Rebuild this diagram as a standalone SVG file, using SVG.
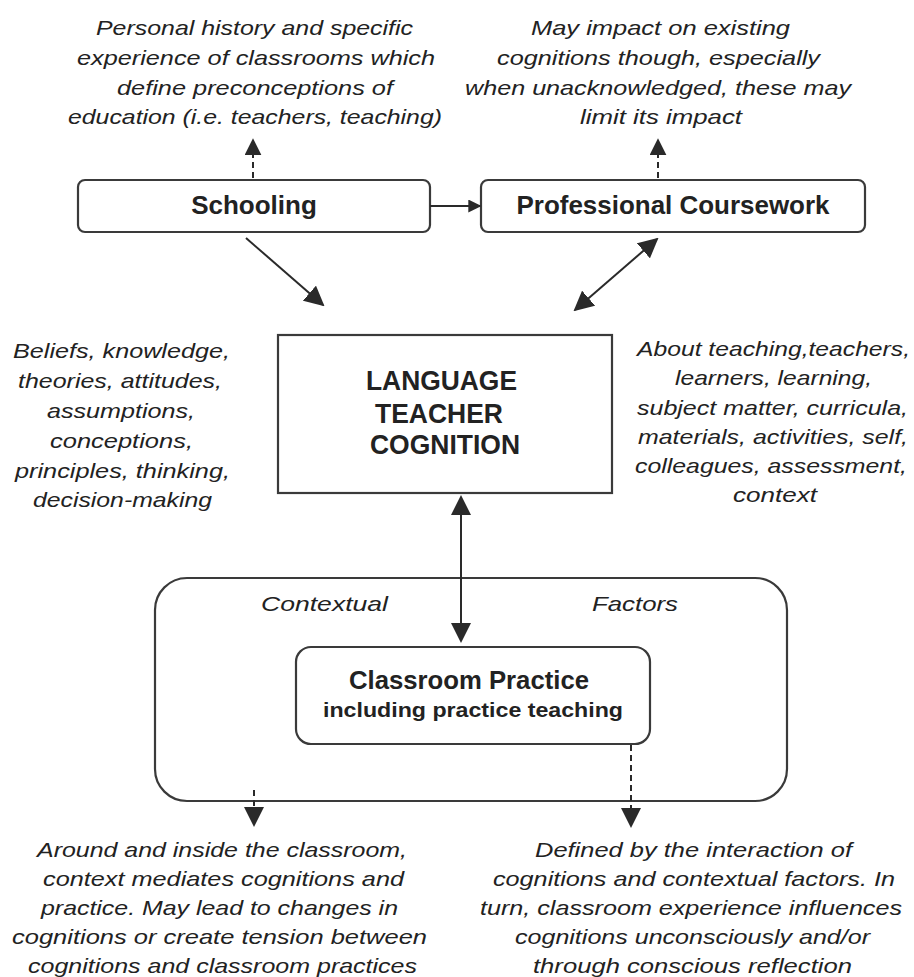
<svg xmlns="http://www.w3.org/2000/svg" width="914" height="977" viewBox="0 0 914 977">
<style>
  .note { font-family: "Liberation Sans", Arial, sans-serif; font-style: italic; font-size: 21px; fill: #222; }
  .bold { font-family: "Liberation Sans", Arial, sans-serif; font-weight: bold; fill: #222; }
  .box { fill: #fff; stroke: #3a3a3a; stroke-width: 2.2; }
  .conn { stroke: #2a2a2a; stroke-width: 2; fill: none; }
  .dash { stroke-dasharray: 6 4; }
</style>
<defs>
  <marker id="ah" viewBox="0 0 10 10" refX="9" refY="5" markerWidth="20" markerHeight="20" markerUnits="userSpaceOnUse" orient="auto-start-reverse">
    <path d="M0,0 L10,5 L0,10 z" fill="#2a2a2a"/>
  </marker>
  <marker id="ahm" viewBox="0 0 10 10" refX="9" refY="5" markerWidth="17" markerHeight="17" markerUnits="userSpaceOnUse" orient="auto-start-reverse">
    <path d="M0,0 L10,5 L0,10 z" fill="#2a2a2a"/>
  </marker>
  <marker id="ahs" viewBox="0 0 10 10" refX="9" refY="5" markerWidth="13" markerHeight="13" markerUnits="userSpaceOnUse" orient="auto-start-reverse">
    <path d="M0,0 L10,5 L0,10 z" fill="#2a2a2a"/>
  </marker>
</defs>
<rect width="914" height="977" fill="#fff"/>

<g id="note-schooling" class="note">
  <text x="96" y="35" textLength="317" lengthAdjust="spacingAndGlyphs">Personal history and specific</text>
  <text x="77" y="65" textLength="358" lengthAdjust="spacingAndGlyphs">experience of classrooms which</text>
  <text x="117" y="95" textLength="276" lengthAdjust="spacingAndGlyphs">define preconceptions of</text>
  <text x="68" y="124" textLength="374" lengthAdjust="spacingAndGlyphs">education (i.e. teachers, teaching)</text>
</g>
<g id="note-coursework" class="note">
  <text x="531" y="35" textLength="259" lengthAdjust="spacingAndGlyphs">May impact on existing</text>
  <text x="497" y="65" textLength="323" lengthAdjust="spacingAndGlyphs">cognitions though, especially</text>
  <text x="465" y="95" textLength="386" lengthAdjust="spacingAndGlyphs">when unacknowledged, these may</text>
  <text x="580" y="124" textLength="162" lengthAdjust="spacingAndGlyphs">limit its impact</text>
</g>

<g id="schooling">
  <rect class="box" x="78" y="180" width="352" height="52" rx="7"/>
  <text class="bold" x="254" y="214" font-size="26" text-anchor="middle">Schooling</text>
</g>
<g id="coursework">
  <rect class="box" x="481" y="180" width="384" height="52" rx="7"/>
  <text class="bold" x="673" y="214" font-size="26" text-anchor="middle" textLength="313" lengthAdjust="spacingAndGlyphs">Professional Coursework</text>
</g>

<g id="ltc">
  <rect class="box" x="278" y="335" width="334" height="158"/>
  <text class="bold" x="366" y="390" font-size="28" textLength="151" lengthAdjust="spacingAndGlyphs">LANGUAGE</text>
  <text class="bold" x="375" y="423" font-size="28" textLength="128" lengthAdjust="spacingAndGlyphs">TEACHER</text>
  <text class="bold" x="370" y="454" font-size="28" textLength="150" lengthAdjust="spacingAndGlyphs">COGNITION</text>
</g>

<g id="note-ltc-left" class="note" font-size="20">
  <text x="13" y="358" textLength="217" lengthAdjust="spacingAndGlyphs">Beliefs, knowledge,</text>
  <text x="18" y="388" textLength="204" lengthAdjust="spacingAndGlyphs">theories, attitudes,</text>
  <text x="47" y="418" textLength="148" lengthAdjust="spacingAndGlyphs">assumptions,</text>
  <text x="50" y="448" textLength="143" lengthAdjust="spacingAndGlyphs">conceptions,</text>
  <text x="15" y="478" textLength="215" lengthAdjust="spacingAndGlyphs">principles, thinking,</text>
  <text x="33" y="507" textLength="179" lengthAdjust="spacingAndGlyphs">decision-making</text>
</g>
<g id="note-ltc-right" class="note" font-size="20">
  <text x="637" y="356" textLength="273" lengthAdjust="spacingAndGlyphs">About teaching,teachers,</text>
  <text x="675" y="385" textLength="197" lengthAdjust="spacingAndGlyphs">learners, learning,</text>
  <text x="637" y="415" textLength="271" lengthAdjust="spacingAndGlyphs">subject matter, curricula,</text>
  <text x="638" y="444" textLength="270" lengthAdjust="spacingAndGlyphs">materials, activities, self,</text>
  <text x="635" y="473" textLength="272" lengthAdjust="spacingAndGlyphs">colleagues, assessment,</text>
  <text x="733" y="502" textLength="84" lengthAdjust="spacingAndGlyphs">context</text>
</g>

<g id="contextual-factors">
  <rect class="box" x="155" y="578" width="632" height="223" rx="32"/>
  <text class="note" x="261" y="611" font-size="25" textLength="127" lengthAdjust="spacingAndGlyphs">Contextual</text>
  <text class="note" x="592" y="611" font-size="25" textLength="86" lengthAdjust="spacingAndGlyphs">Factors</text>
</g>

<g id="classroom-practice">
  <rect class="box" x="296" y="647" width="354" height="97" rx="15"/>
  <text class="bold" x="349" y="689" font-size="25" textLength="240" lengthAdjust="spacingAndGlyphs">Classroom Practice</text>
  <text class="bold" x="323" y="717" font-size="21" textLength="300" lengthAdjust="spacingAndGlyphs">including practice teaching</text>
</g>

<g id="note-context" class="note" font-size="20">
  <text x="37" y="857" textLength="370" lengthAdjust="spacingAndGlyphs">Around and inside the classroom,</text>
  <text x="43" y="886" textLength="361" lengthAdjust="spacingAndGlyphs">context mediates cognitions and</text>
  <text x="41" y="915" textLength="357" lengthAdjust="spacingAndGlyphs">practice. May lead to changes in</text>
  <text x="12" y="944" textLength="415" lengthAdjust="spacingAndGlyphs">cognitions or create tension between</text>
  <text x="28" y="973" textLength="389" lengthAdjust="spacingAndGlyphs">cognitions and classroom practices</text>
</g>
<g id="note-practice" class="note" font-size="20">
  <text x="535" y="857" textLength="317" lengthAdjust="spacingAndGlyphs">Defined by the interaction of</text>
  <text x="493" y="886" textLength="402" lengthAdjust="spacingAndGlyphs">cognitions and contextual factors. In</text>
  <text x="480" y="915" textLength="422" lengthAdjust="spacingAndGlyphs">turn, classroom experience influences</text>
  <text x="515" y="944" textLength="355" lengthAdjust="spacingAndGlyphs">cognitions unconsciously and/or</text>
  <text x="533" y="973" textLength="319" lengthAdjust="spacingAndGlyphs">through conscious reflection</text>
</g>

<g id="connectors">
  <line class="conn dash" x1="253" y1="178" x2="253" y2="140" marker-end="url(#ahm)"/>
  <line class="conn dash" x1="658" y1="178" x2="658" y2="140" marker-end="url(#ahm)"/>
  <line class="conn" x1="430" y1="206" x2="480" y2="206" marker-end="url(#ahs)"/>
  <line class="conn" x1="246" y1="238" x2="323" y2="305" marker-end="url(#ah)"/>
  <line class="conn" x1="657" y1="239" x2="575" y2="310" marker-start="url(#ah)" marker-end="url(#ah)"/>
  <line class="conn" x1="461" y1="497" x2="461" y2="641" marker-start="url(#ah)" marker-end="url(#ah)"/>
  <line class="conn dash" x1="254" y1="790" x2="254" y2="825" marker-end="url(#ah)"/>
  <line class="conn dash" x1="631" y1="745" x2="631" y2="826" marker-end="url(#ah)"/>
</g>
</svg>
